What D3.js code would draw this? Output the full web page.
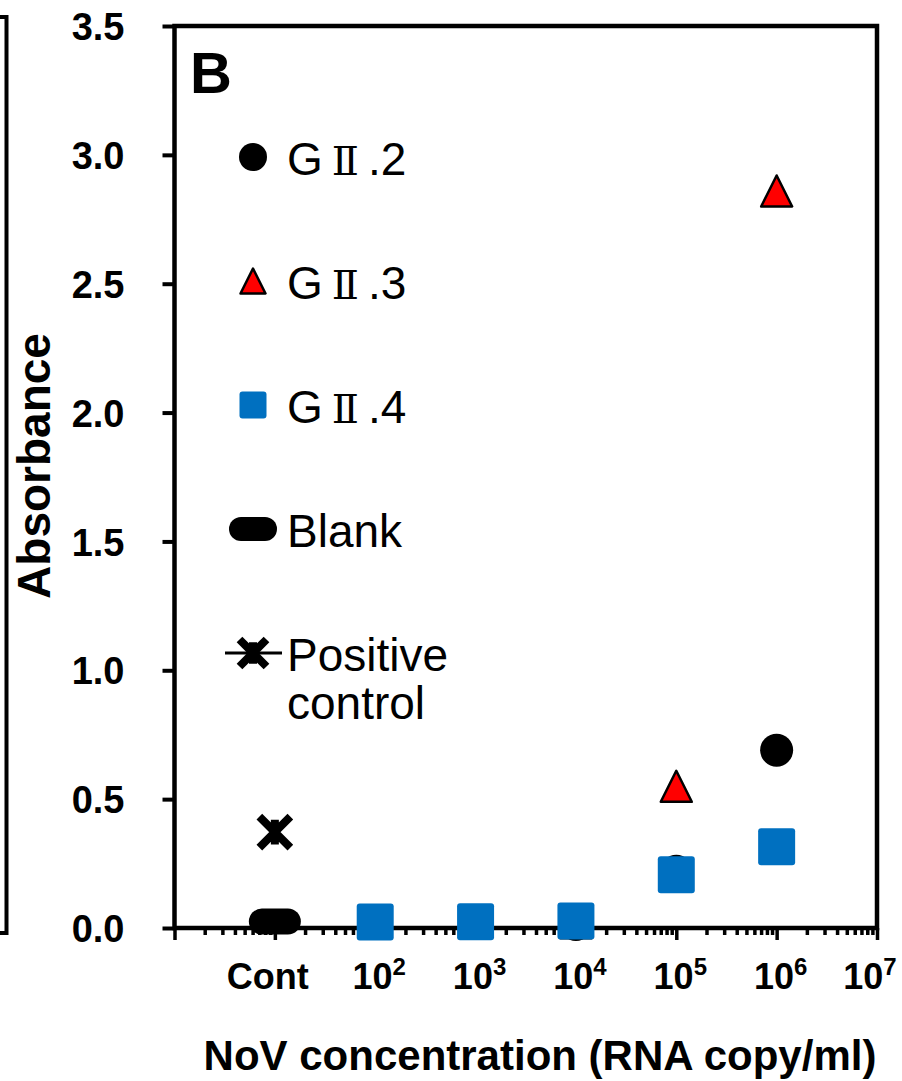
<!DOCTYPE html>
<html lang="en">
	<head>
		<meta charset="utf-8">
		<title>NoV absorbance</title>
		<script src="https://d3js.org/d3.v7.min.js"></script>
		<style>
			body { margin: 0; background: #fff; }
			text { font-family: "Liberation Sans", Arial, sans-serif; }
		</style>
	</head>
	<body>
		<script type="text/javascript">

			// Data
			var concLabels = ["Cont", "10", "10", "10", "10", "10", "10"];
			var concExps   = ["", "2", "3", "4", "5", "6", "7"];
			var concValues = [10, 1e2, 1e3, 1e4, 1e5, 1e6, 1e7];

			var sampleConc = [1e2, 1e3, 1e4, 1e5, 1e6];
			var gii2 = [0.02, 0.02, 0.014, 0.22, 0.69];
			var gii3 = [0.02, 0.02, 0.02, 0.55, 2.86];
			var gii4 = [0.023, 0.024, 0.027, 0.207, 0.315];

			var blankConc = [10];
			var blankVal = [0.025];
			var posConc = [10];
			var posVal = [0.372];

			var yTicks = [0, 0.5, 1.0, 1.5, 2.0, 2.5, 3.0, 3.5];
			var seriesNames = ["G", "G", "G", "Blank", "Positive"];

			// Width and height
			var w = 902;
			var h = 1081;
			var plot = {left: 174.5, right: 877, top: 26, bottom: 928};

			var svg = d3.select("body")
						.append("svg")
						.attr("width", w)
						.attr("height", h);

			svg.append("rect")
				.attr("width", w)
				.attr("height", h)
				.attr("fill", "white");

			// leftover edge of panel A
			svg.append("path")
				.attr("d", "M0,17 H6.5 V933 H0")
				.attr("fill", "none")
				.attr("stroke", "black")
				.attr("stroke-width", 4);

			var x = d3.scaleLog()
				.domain([1, 1e7])
				.range([plot.left, plot.right]);

			var y = d3.scaleLinear()
				.domain([0, 3.5])
				.range([plot.bottom, plot.top]);

			// log ticks
			var majorTicks = d3.range(0, 8).map(function(e) { return Math.pow(10, e); });
			var minorTicks = [];
			d3.range(0, 7).forEach(function(e) {
				d3.range(2, 10).forEach(function(m) { minorTicks.push(m * Math.pow(10, e)); });
			});

			var xMinor = svg.append("g")
				.attr("transform", "translate(0," + plot.bottom + ")")
				.call(d3.axisBottom(x).tickValues(minorTicks).tickSize(7).tickFormat(""));
			var xMajor = svg.append("g")
				.attr("transform", "translate(0," + plot.bottom + ")")
				.call(d3.axisBottom(x).tickValues(majorTicks).tickSize(12).tickFormat(""));
			svg.selectAll(".domain").remove();
			svg.selectAll(".tick line")
				.attr("stroke", "black")
				.attr("stroke-width", 3.5);

			// y axis
			var yAxis = svg.append("g")
				.attr("transform", "translate(" + plot.left + ",0)")
				.call(d3.axisLeft(y).tickValues(yTicks).tickSize(12).tickPadding(38)
					.tickFormat(d3.format(".1f")));
			yAxis.select(".domain").remove();
			yAxis.selectAll(".tick line")
				.attr("stroke", "black")
				.attr("stroke-width", 4);
			yAxis.selectAll(".tick text")
				.attr("fill", "black")
				.attr("font-size", 38)
				.attr("font-weight", "bold")
				.attr("font-family", "'Liberation Sans', Arial, sans-serif")
				.attr("dy", "0.36em");

			// plot frame
			svg.append("rect")
				.attr("x", plot.left)
				.attr("y", plot.top)
				.attr("width", plot.right - plot.left)
				.attr("height", plot.bottom - plot.top)
				.attr("fill", "none")
				.attr("stroke", "black")
				.attr("stroke-width", 4.5);

			// x tick labels with superscripts (end labels nudged left like the original)
			var last = concValues.length - 1;
			var xl = svg.append("g").selectAll("text")
				.data(concValues)
				.enter().append("text")
				.attr("x", function(d, i) { return x(d) + ((i === 0 || i === last) ? -7 : 4); })
				.attr("y", 989)
				.attr("text-anchor", "middle")
				.attr("font-size", 36)
				.attr("font-weight", "bold")
				.attr("fill", "black");
			xl.append("tspan").text(function(d, i) { return concLabels[i]; });
			xl.append("tspan")
				.attr("font-size", 24)
				.attr("dy", -14)
				.text(function(d, i) { return concExps[i]; });

			// marker drawing
			function drawMarker(g, type, s) {
				if (type === "circle") {
					g.append("circle").attr("r", s / 2).attr("fill", "black");
				} else if (type === "triangle") {
					g.append("path")
						.attr("d", "M0," + (-s / 2) + "L" + (s / 2) + "," + (s / 2) + "L" + (-s / 2) + "," + (s / 2) + "Z")
						.attr("fill", "#FF0000")
						.attr("stroke", "black")
						.attr("stroke-width", 2.5)
						.attr("stroke-linejoin", "round");
				} else if (type === "square") {
					g.append("rect")
						.attr("x", -s / 2).attr("y", -s / 2)
						.attr("width", s).attr("height", s)
						.attr("rx", 3)
						.attr("fill", "#0070C0");
				} else if (type === "blank") {
					g.append("rect")
						.attr("x", -s).attr("y", -s / 2)
						.attr("width", 2 * s).attr("height", s)
						.attr("rx", s / 2)
						.attr("fill", "black");
				} else if (type === "star") {
					var r = s / 2;
					g.append("path")
						.attr("d", "M" + (-r) + "," + (-r) + "L" + r + "," + r +
							"M" + r + "," + (-r) + "L" + (-r) + "," + r +
							"M0," + (-r * 0.8) + "L0," + (r * 0.8))
						.attr("stroke", "black")
						.attr("stroke-width", 8)
						.attr("fill", "none");
				}
			}

			var plotSeries = [
				{type: "circle", size: 33, xs: sampleConc, ys: gii2},
				{type: "triangle", size: 31, xs: sampleConc, ys: gii3},
				{type: "square", size: 37, xs: sampleConc, ys: gii4},
				{type: "blank", size: 26, xs: blankConc, ys: blankVal},
				{type: "star", size: 31, xs: posConc, ys: posVal}
			];

			plotSeries.forEach(function(s) {
				s.xs.forEach(function(c, i) {
					var g = svg.append("g")
						.attr("transform", "translate(" + x(c) + "," + y(s.ys[i]) + ")");
					drawMarker(g, s.type, s.size);
				});
			});

			// legend inside plot
			var legendX = 253, legendTop = 157, legendStep = 124;
			var legendTypes = [
				{type: "circle", size: 28, sub: "2"},
				{type: "triangle", size: 25, sub: "3"},
				{type: "square", size: 27, sub: "4"},
				{type: "blank", size: 24},
				{type: "star", size: 27}
			];
			legendTypes.forEach(function(l, i) {
				var ly = legendTop + i * legendStep;
				var g = svg.append("g").attr("transform", "translate(" + legendX + "," + ly + ")");
				if (l.type === "star") {
					g.append("line").attr("x1", -28).attr("x2", 29)
						.attr("stroke", "black").attr("stroke-width", 3);
				}
				drawMarker(g, l.type, l.size);

				var t = svg.append("text")
					.attr("x", 287)
					.attr("y", ly + 18)
					.attr("font-size", 46)
					.attr("fill", "black");
				if (l.sub) {
					t.append("tspan").text(seriesNames[i]);
					t.append("tspan")
						.attr("dx", 9)
						.attr("font-family", "'DejaVu Serif', serif")
						.attr("font-size", 40)
						.text("\u2161");
					t.append("tspan").attr("dx", 9).text("." + l.sub);
				} else if (l.type === "blank") {
					t.text(seriesNames[i]);
				} else {
					t.text(seriesNames[i]);
					svg.append("text")
						.attr("x", 287)
						.attr("y", ly + 66)
						.attr("font-size", 46)
						.attr("fill", "black")
						.text("control");
				}
			});

			// panel letter
			svg.append("text")
				.attr("x", 190)
				.attr("y", 93)
				.attr("font-size", 58)
				.attr("font-weight", "bold")
				.text("B");

			// axis titles
			svg.append("text")
				.attr("transform", "translate(50,466) rotate(-90)")
				.attr("text-anchor", "middle")
				.attr("font-size", 46)
				.attr("font-weight", "bold")
				.text("Absorbance");

			svg.append("text")
				.attr("x", 540)
				.attr("y", 1070)
				.attr("text-anchor", "middle")
				.attr("font-size", 42)
				.attr("font-weight", "bold")
				.text("NoV concentration (RNA copy/ml)");

		</script>
	</body>
</html>
